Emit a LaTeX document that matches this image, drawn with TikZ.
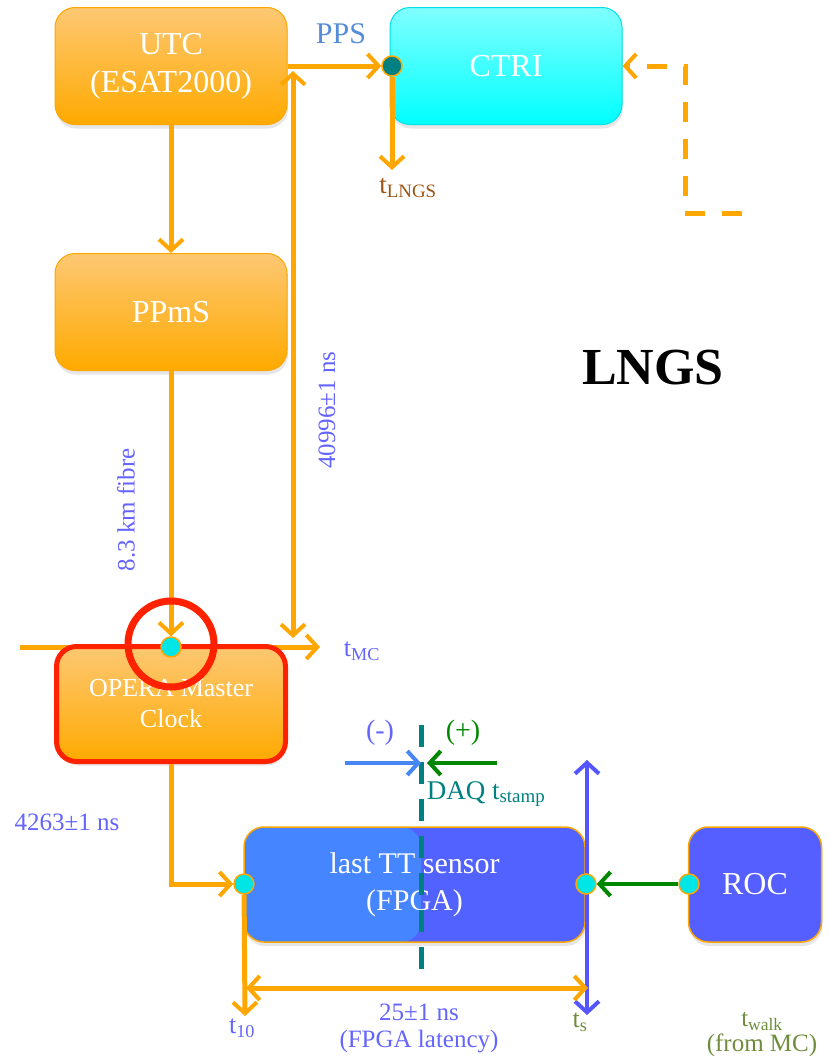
\documentclass[tikz,border=0pt]{standalone}
\usepackage{fontspec}
\setmainfont{Liberation Serif}
\usetikzlibrary{arrows.meta,shadows}
\definecolor{wireorange}{RGB}{255,166,0}
\definecolor{boxorangetop}{RGB}{253,200,115}
\definecolor{boxorangebot}{RGB}{255,170,0}
\definecolor{ctritop}{RGB}{128,255,255}
\definecolor{ctribot}{RGB}{0,255,255}
\definecolor{ctriline}{RGB}{0,225,230}
\definecolor{ttleft}{RGB}{69,133,255}
\definecolor{ttright}{RGB}{82,98,255}
\definecolor{rocblue}{RGB}{85,95,255}
\definecolor{labelblue}{RGB}{100,100,255}
\definecolor{ppsblue}{RGB}{85,140,215}
\definecolor{lngsbrown}{RGB}{155,85,20}
\definecolor{daqteal}{RGB}{0,128,128}
\definecolor{plusgreen}{RGB}{0,135,0}
\definecolor{walkolive}{RGB}{110,140,60}
\definecolor{markred}{RGB}{255,34,0}
\definecolor{dotcyan}{RGB}{0,230,230}
\definecolor{minusblue}{RGB}{70,135,245}
\definecolor{tsblue}{RGB}{85,85,255}

\begin{document}
\begin{tikzpicture}[x=1pt,y=-1pt,font=\fontsize{25}{29}\selectfont,
  >={Straight Barb[length=11pt,width=24pt,line width=4pt]},
  box/.style={rounded corners=20pt,minimum width=232pt,minimum height=117pt,inner sep=0pt,align=center,text=white,
    font=\fontsize{32}{38}\selectfont,drop shadow={opacity=.2,shadow xshift=1pt,shadow yshift=-4pt}},
  obox/.style={box,top color=boxorangetop,bottom color=boxorangebot,draw=wireorange,line width=1pt},
  cbox/.style={box,top color=ctritop,bottom color=ctribot,draw=ctriline,line width=1pt},
  wire/.style={wireorange,line width=5pt},
  thinwire/.style={line width=4pt},
  dot/.style={circle,fill=dotcyan,draw=wireorange,line width=1.5pt,minimum size=20pt,inner sep=0pt},
  lbl/.style={text=labelblue}]
\useasboundingbox (0,0) rectangle (829,1060);
\coordinate (mcfeed) at (20,647);
\coordinate (mcout) at (320,647);
\draw[wire,->] (mcfeed) -- (mcout);
\node[obox] (utc) at (171,66) {UTC\\(ESAT2000)};
\node[cbox] (ctri) at (506,66) {CTRI};
\node[obox] (ppms) at (171,312) {PPmS};
\node[obox,draw=markred,line width=5pt,minimum width=229pt,minimum height=115pt,font=\fontsize{26}{31}\selectfont] (omc) at (171,704) {OPERA Master\\Clock};
\node[box,draw=wireorange,line width=1.5pt,fill=ttright,minimum width=341pt,minimum height=115pt,font=\fontsize{30}{37}\selectfont,
  path picture={\fill[ttleft] (path picture bounding box.north west) rectangle ([xshift=177pt]path picture bounding box.south west);}] (tt) at (414.5,884.5) {last TT sensor\\(FPGA)};
\node[box,draw=wireorange,line width=1.5pt,fill=rocblue,minimum width=133pt,minimum height=115pt] (roc) at (755,884.5) {ROC};
\coordinate (ppsjoin) at (293,71);
\coordinate (mcjoin) at (293,638);
\draw[wire,<->] (mcjoin) -- (ppsjoin);
\coordinate (daqtop) at (421,725);
\coordinate (daqbot) at (421,970);
\draw[daqteal,line width=5pt,dash pattern=on 22pt off 15pt] (daqtop) -- (daqbot);
\coordinate (tstop) at (587,760);
\coordinate (tsbot) at (587,1015);
\draw[tsblue,thinwire,<->] (tsbot) -- (tstop);
\coordinate (latl) at (246,988);
\coordinate (latr) at (588,988);
\draw[wire,<->] (latl) -- (latr);
\node[dot,fill=daqteal] (ppsdot) at (392,66) {};
\node[dot] (mcdot) at (171,647) {};
\node[dot] (ttin) at (244,884) {};
\node[dot] (ttout) at (586,884) {};
\node[dot] (rocout) at (689,884) {};
\draw[wire,->] (utc.east) -- (ppsdot);
\draw[wire,->] (utc) -- (ppms);
\draw[wire,->] (ppms) -- (mcdot);
\coordinate (lngsout) at (392,170);
\draw[wire,->] (ppsdot) -- (lngsout);
\coordinate (gpsfeed) at (742,213);
\coordinate (gpsbend) at (685,213);
\draw[wire,dash pattern=on 20pt off 17pt,->] (gpsfeed) -- (gpsbend) |- (ctri.east);
\draw[wire,->] (omc) |- (ttin);
\coordinate (t10end) at (245,1016);
\draw[wire,->] (ttin) -- (t10end);
\draw[plusgreen,thinwire,->] (rocout) -- (ttout);
\coordinate (minusfrom) at (345,763);
\coordinate (daqmark) at (421,763);
\coordinate (plusfrom) at (497,763);
\draw[minusblue,thinwire,->] (minusfrom) -- (daqmark);
\draw[plusgreen,thinwire,->] (plusfrom) -- ([xshift=6pt]daqmark);
\node[text=ppsblue,font=\fontsize{30}{36}\selectfont] (ppslbl) at (341,34) {PPS};
\node[text=lngsbrown,font=\fontsize{27}{30}\selectfont] (tlngs) at (408,188) {t\textsubscript{LNGS}};
\node[lbl,rotate=90] (fibrelbl) at (126,510) {8.3 km fibre};
\node[lbl,rotate=90] (delaylbl) at (327,410) {40996±1 ns};
\node[font=\bfseries\fontsize{52}{60}\selectfont] (lngs) at (653,368) {LNGS};
\node[lbl,font=\fontsize{26}{30}\selectfont] (tmc) at (362,651) {t\textsubscript{MC}};
\node[lbl] (clockdelay) at (67,822) {4263±1 ns};
\node[lbl,font=\fontsize{28}{32}\selectfont] (minuslbl) at (380,733) {(-)};
\node[text=plusgreen,font=\fontsize{28}{32}\selectfont] (pluslbl) at (463,733) {(+)};
\node[text=daqteal,font=\fontsize{27}{32}\selectfont] (daqlbl) at (486,794) {DAQ t\textsubscript{stamp}};
\node[lbl,font=\fontsize{26}{30}\selectfont] (t10) at (242,1028) {t\textsubscript{10}};
\node[lbl,align=center,font=\fontsize{25}{27}\selectfont] (latlbl) at (419,1028) {25±1 ns\\(FPGA latency)};
\node[text=walkolive,font=\fontsize{26}{30}\selectfont] (tslbl) at (580,1022) {t\textsubscript{s}};
\node[text=walkolive,align=center,font=\fontsize{25}{25}\selectfont] (twalk) at (762,1035) {t\textsubscript{walk}\\(from MC)};
\node[circle,draw=markred,line width=7pt,minimum size=86pt,inner sep=0pt] (mcmark) at (171,644) {};
\end{tikzpicture}
\end{document}
